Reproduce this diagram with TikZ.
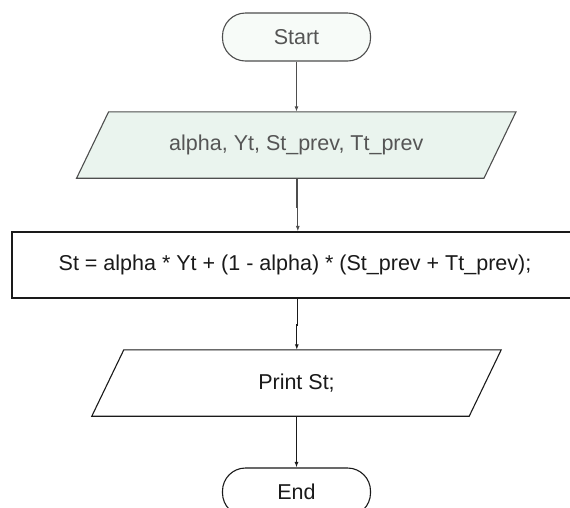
\documentclass[tikz,border=0pt]{standalone}
\usepackage{fontspec}
\setmainfont{Liberation Sans}
\usetikzlibrary{arrows.meta}

\definecolor{inkgrey}{HTML}{4E4E4E}
\definecolor{textgrey}{HTML}{555555}
\definecolor{inkdark}{HTML}{1A1A1A}
\definecolor{palegreen}{HTML}{EAF4EE}

\tikzset{
  flowfont/.style={font=\fontsize{21.5pt}{24pt}\selectfont},
  terminal/.style={draw, flowfont, rectangle, rounded corners=23pt,
    minimum width=148pt, minimum height=48pt, inner sep=0pt, line width=1.1pt},
  iobox/.style={flowfont, rectangle, minimum height=66pt, inner sep=0pt},
  procbox/.style={draw, flowfont, rectangle, minimum height=66pt,
    inner sep=0pt, line width=1.1pt},
  flowline/.style={line width=1.1pt, -{Latex[length=5.5pt,width=4pt]}},
  slantedge/.style={line width=1.1pt, line join=miter}
}

\newcommand{\slantbox}[3]{% node name, slant, draw options
  \draw[slantedge,#3] ([xshift=#2]#1.north west) -- ([xshift=#2]#1.north east)
    -- ([xshift=-#2]#1.south east) -- ([xshift=-#2]#1.south west) -- cycle;}

\begin{document}
\begin{tikzpicture}[x=1pt, y=-1pt]
  \clip (0,0) rectangle (570,507);
  \fill[white] (0,0) rectangle (570,507);

  % start terminal
  \node[terminal, draw=inkgrey, text=textgrey, fill=palegreen!40] (start) at (296.5,37) {Start};

  % input parallelogram
  \node[iobox, minimum width=407pt] (input) at (296.3,145) {};
  \slantbox{input}{16pt}{draw=inkgrey, fill=palegreen}
  \node[flowfont, text=textgrey] (inputtext) at (input.center) {alpha, Yt, St\_prev, Tt\_prev};

  % process box
  \node[procbox, minimum width=566pt, draw=inkdark, text=inkdark] (calc) at (295,265)
    {St = alpha * Yt + (1 - alpha) * (St\_prev + Tt\_prev);};

  % output parallelogram
  \node[iobox, minimum width=377pt] (output) at (296.5,383) {};
  \slantbox{output}{16pt}{draw=inkdark}
  \node[flowfont, text=inkdark] (outputtext) at (output.center) {Print St;};

  % end terminal
  \node[terminal, draw=inkdark, text=inkdark] (stop) at (296.5,492) {End};

  % connectors
  \coordinate (k1) at (297,207);
  \coordinate (k2) at (297.8,325);
  \draw[flowline, draw=inkgrey] (start.south) -- (input.north -| start.south);
  \draw[flowline, draw=inkgrey] (input.south -| k1) -- (k1) -- ([xshift=0.8pt]k1) -- ([xshift=0.8pt]calc.north -| k1);
  \draw[flowline, draw=inkdark] (calc.south -| k2) -- (k2) -- ([xshift=-1pt]k2) -- ([xshift=-1pt]output.north -| k2);
  \draw[flowline, draw=inkdark] (output.south -| stop.north) -- (stop.north);
\end{tikzpicture}
\end{document}
